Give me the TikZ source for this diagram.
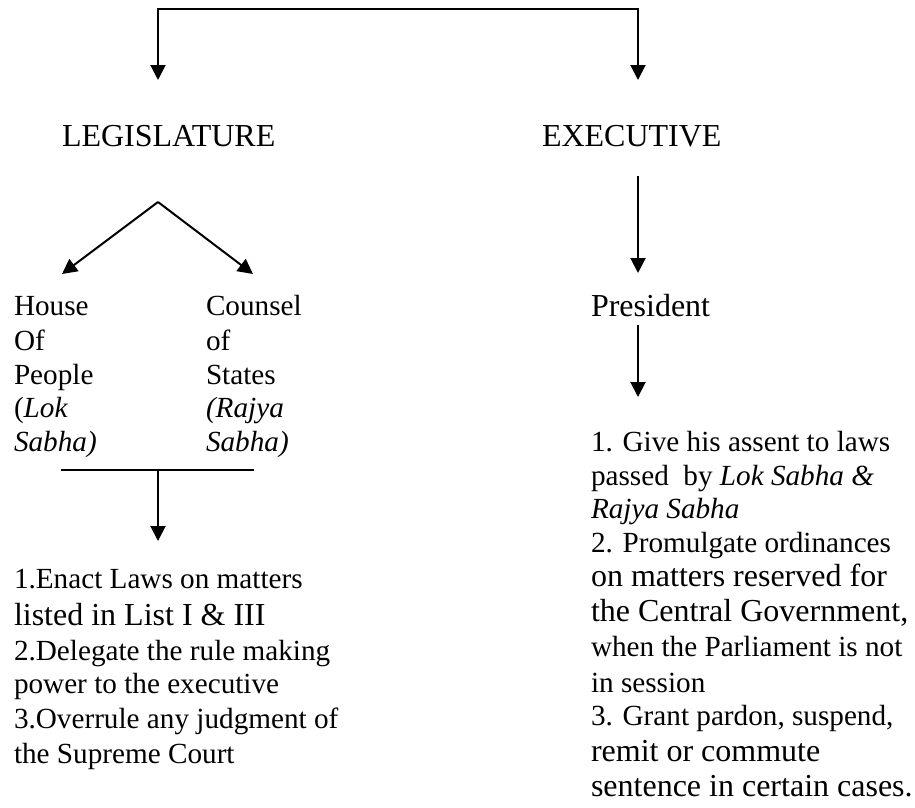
\documentclass[tikz,border=0pt]{standalone}
\usepackage{fontspec}
\setmainfont{Liberation Serif}
\usetikzlibrary{arrows.meta}
\tikzset{
  conn/.style={line width=2pt, draw=black},
  arr/.style={conn, -{Triangle[width=15pt,length=15pt]}},
  arrboth/.style={conn, {Triangle[width=15pt,length=15pt]}-{Triangle[width=15pt,length=15pt]}},
  txt/.style={anchor=base west, inner sep=0pt, outer sep=0pt, font=\fontsize{29.2}{34}\selectfont},
  big/.style={anchor=base west, inner sep=0pt, outer sep=0pt, font=\fontsize{32}{35}\selectfont}
}
\begin{document}
\begin{tikzpicture}[x=1pt,y=-1pt]
\useasboundingbox (0,0) rectangle (915,807);
% headings
\node[big] (leg) at (62,146) {LEGISLATURE};
\node[big] (exe) at (542,146) {EXECUTIVE};
\node[big] (pres) at (591,316) {President};
% house of people
\node[txt] (h1) at (14,315) {House};
\node[txt] (h2) at (14,350) {Of};
\node[txt] (h3) at (14,384) {People};
\node[txt] (h4) at (14,417.5) {(\textit{Lok}};
\node[txt] (h5) at (14,451.5) {\textit{Sabha)}};
% council of states
\node[txt] (c1) at (206,315) {Counsel};
\node[txt] (c2) at (206,350) {of};
\node[txt] (c3) at (206,384) {States};
\node[txt] (c4) at (206,417.5) {\textit{(Rajya}};
\node[txt] (c5) at (206,451.5) {\textit{Sabha)}};
% legislature functions
\node[txt] (l1) at (14,588) {1.Enact Laws on matters};
\node[big] (l2) at (14,625) {listed in List I \& III};
\node[txt] (l3) at (14,660) {2.Delegate the rule making};
\node[txt] (l4) at (14,693.5) {power to the executive};
\node[txt] (l5) at (14,728) {3.Overrule any judgment of};
\node[txt] (l6) at (14,763) {the Supreme Court};
% president functions
\node[txt] (p1) at (591,451.7) {1. Give his assent to laws};
\node[txt] (p2) at (591,485) {passed\ \ by \textit{Lok Sabha \&}};
\node[txt] (p3) at (591,518.5) {\textit{Rajya Sabha}};
\node[txt] (p4) at (591,552) {2. Promulgate ordinances};
\node[big] (p5) at (591,586.7) {on matters reserved for};
\node[big] (p6) at (591,621.7) {the Central Government,};
\node[txt] (p7) at (591,656.7) {when the Parliament is not};
\node[txt] (p8) at (591,692) {in session};
\node[txt] (p9) at (591,725.5) {3. Grant pardon, suspend,};
\node[big] (p10) at (591,761.7) {remit or commute};
\node[big] (p11) at (591,796.7) {sentence in certain cases.};
% connector coordinates
\coordinate (legin) at (158,80);
\coordinate (exein) at (638,80);
\coordinate (topmid) at (398,9);
\coordinate (vapex) at (158,202);
\coordinate (vleft) at (62,274);
\coordinate (vright) at (253,274);
\coordinate (barl) at (61,470);
\coordinate (barr) at (254,470);
\coordinate (barmid) at (158,470);
\coordinate (funcin) at (158,541);
\coordinate (exeout) at (638,176);
\coordinate (presin) at (638,273);
\coordinate (presout) at (638,325);
\coordinate (pfin) at (638,397);
% connectors
\draw[arrboth] (legin) |- (topmid) -| (exein);
\draw[arr] (vapex) -- (vleft);
\draw[arr] (vapex) -- (vright);
\draw[conn] (barl) -- (barr);
\draw[arr] (barmid) -- (funcin);
\draw[arr] (exeout) -- (presin);
\draw[arr] (presout) -- (pfin);
\end{tikzpicture}
\end{document}
